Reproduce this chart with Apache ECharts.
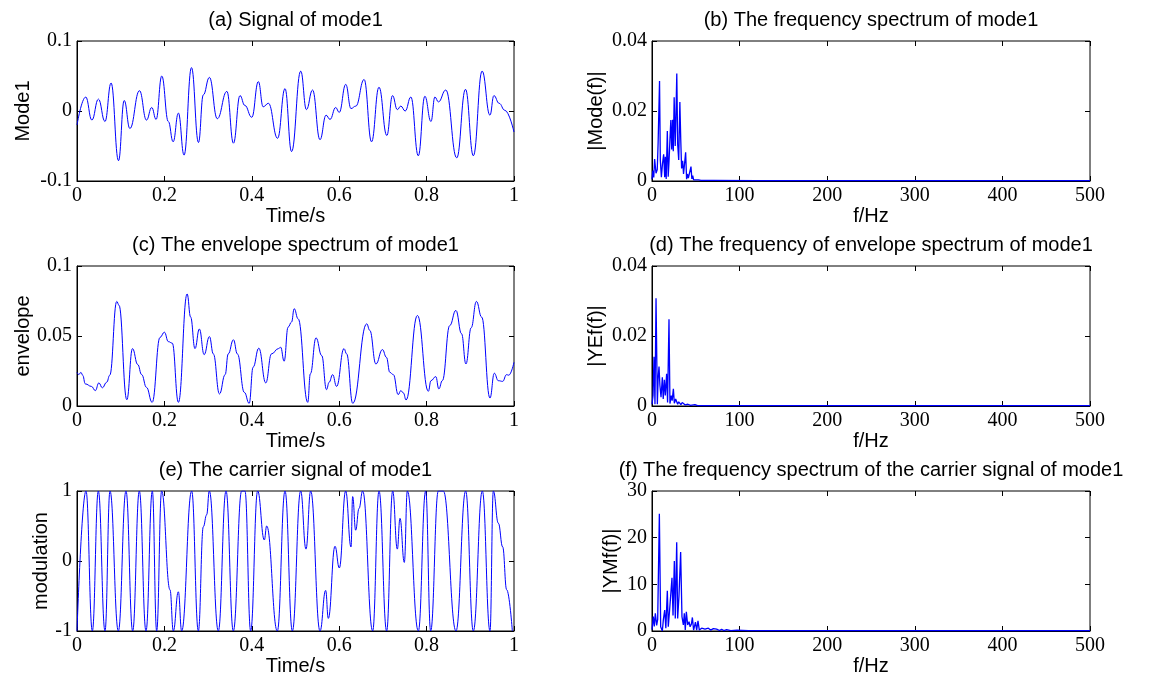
<!DOCTYPE html>
<html>
<head>
<meta charset="utf-8">
<title>Mode 1 analysis</title>
<script src="https://cdn.jsdelivr.net/npm/echarts@6/dist/echarts.min.js"></script>
<style>
  html, body { margin: 0; padding: 0; background: #fff; }
  #chart { width: 1154px; height: 678px; }
</style>
</head>
<body>
<div id="chart"></div>
<script>
// ---- (a) mode 1 in the time domain: [t (s), amplitude] at turning points ----
const mode1Signal = [
  [0.000,-0.020],[0.020,0.020],[0.034,-0.013],[0.049,0.017],[0.064,-0.015],[0.078,0.040],
  [0.095,-0.071],[0.108,0.015],[0.121,-0.025],[0.143,0.029],[0.159,-0.013],[0.171,0.005],
  [0.181,-0.012],[0.194,0.050],[0.209,-0.015],[0.220,-0.044],[0.232,-0.003],[0.245,-0.063],
  [0.262,0.062],[0.278,-0.045],[0.289,0.023],[0.303,0.048],[0.321,-0.011],[0.343,0.028],
  [0.358,-0.046],[0.373,0.022],[0.384,0.008],[0.400,-0.009],[0.415,0.042],[0.426,0.006],
  [0.438,0.011],[0.459,-0.039],[0.476,0.032],[0.491,-0.058],[0.512,0.057],[0.525,0.002],
  [0.539,0.030],[0.556,-0.041],[0.570,-0.006],[0.579,-0.012],[0.592,0.005],[0.600,-0.002],
  [0.615,0.038],[0.627,0.0035],[0.638,0.007],[0.657,0.045],[0.674,-0.044],[0.691,0.034],
  [0.709,-0.035],[0.722,0.022],[0.733,0.002],[0.741,0.007],[0.751,0.000],[0.764,0.020],
  [0.781,-0.064],[0.796,0.021],[0.810,-0.015],[0.819,0.020],[0.827,0.013],[0.844,0.030],
  [0.869,-0.067],[0.889,0.031],[0.907,-0.064],[0.927,0.057],[0.945,-0.006],[0.954,0.022],
  [0.966,0.011],[0.979,0.001],[1.000,-0.030]
];

// ---- (b) amplitude spectrum of mode 1: [f (Hz), |Mode(f)|] ----
const mode1Spectrum = [
  [0,0.0005],[1,0.0030],[2,0.0010],[3,0.0063],[4.6,0.0022],[6,0.0033],[7,0.0110],[8.6,0.0286],
  [9.5,0.0060],[10.7,0.0011],[12,0.0050],[13.3,0.0076],[14.5,0.0011],[15.2,0.0069],[16.2,0.0006],
  [17.5,0.0143],[18.5,0.0012],[19.5,0.0060],[20.5,0.0120],[21.5,0.0174],[22.5,0.0090],[23.5,0.0175],
  [24.3,0.0085],[25.3,0.0239],[26.5,0.0100],[27.3,0.0180],[28.3,0.0307],[29.3,0.0105],[30.5,0.0060],
  [31.8,0.0226],[32.8,0.0120],[33.8,0.0036],[35,0.0058],[36,0.0020],[37,0.0045],[38.4,0.0082],
  [39.5,0.0005],[40.5,0.0020],[41.5,0.0008],[43,0.0012],[44.5,0.0041],[45.5,0.0006],[46.5,0.0015],
  [47.5,0.0003],[49,0.0008],[50,0.0003],[51.5,0.0007],[53,0.0003],[56,0.0002],[70,0.0002],
  [120,0.0001],[500,0.0001]
];

// ---- (c) envelope of mode 1: [t (s), envelope] ----
const mode1Envelope = [
  [0.000,0.024],[0.004,0.0225],[0.009,0.024],[0.013,0.022],[0.019,0.0158],[0.033,0.014],
  [0.042,0.011],[0.050,0.0165],[0.058,0.013],[0.068,0.017],[0.075,0.022],[0.091,0.0747],
  [0.096,0.072],[0.114,0.0045],[0.127,0.041],[0.139,0.0296],[0.148,0.0224],[0.159,0.0133],
  [0.172,0.0026],[0.190,0.049],[0.200,0.0527],[0.209,0.046],[0.218,0.0449],[0.232,0.0026],
  [0.252,0.080],[0.260,0.0635],[0.270,0.041],[0.280,0.055],[0.291,0.0367],[0.303,0.0496],
  [0.312,0.0372],[0.326,0.0086],[0.339,0.0224],[0.346,0.0372],[0.358,0.0473],[0.367,0.0372],
  [0.383,0.0097],[0.394,0.0019],[0.403,0.0277],[0.416,0.0413],[0.432,0.0165],[0.445,0.0372],
  [0.461,0.041],[0.466,0.042],[0.474,0.032],[0.483,0.0563],[0.491,0.060],[0.497,0.0695],
  [0.506,0.0623],[0.528,0.0026],[0.534,0.023],[0.547,0.0487],[0.560,0.036],[0.571,0.0117],
  [0.577,0.017],[0.585,0.0224],[0.594,0.014],[0.611,0.041],[0.617,0.0372],[0.631,0.0019],
  [0.663,0.0587],[0.670,0.054],[0.684,0.030],[0.699,0.0403],[0.708,0.0348],[0.716,0.024],
  [0.724,0.0224],[0.735,0.0081],[0.741,0.011],[0.747,0.0093],[0.753,0.0043],[0.779,0.0647],
  [0.804,0.0105],[0.810,0.0181],[0.821,0.021],[0.828,0.0122],[0.836,0.0181],[0.853,0.0575],
  [0.867,0.0683],[0.880,0.0516],[0.890,0.030],[0.902,0.0559],[0.914,0.0747],[0.926,0.0635],
  [0.945,0.0057],[0.955,0.0234],[0.964,0.0181],[0.974,0.0176],[0.983,0.0224],[0.988,0.022],
  [1.000,0.0312]
];

// ---- (d) spectrum of the envelope: [f (Hz), |YEf(f)|] ----
const envelopeSpectrum = [
  [0,0.0005],[1.2,0.0030],[2.3,0.0141],[3.4,0.0005],[4.6,0.0308],[6.1,0.0005],[7,0.0080],
  [8,0.0113],[9,0.0060],[10.3,0.0025],[11.8,0.0082],[12.8,0.0020],[14.1,0.0075],[15.2,0.0030],
  [16.7,0.0092],[17.8,0.0010],[19.4,0.0248],[20.5,0.0007],[22,0.0030],[23,0.0015],[24.4,0.0049],
  [25.5,0.0008],[27,0.0020],[28.2,0.0025],[29.3,0.0005],[30.5,0.0012],[31.9,0.0017],[33,0.0004],
  [34.5,0.0010],[35.8,0.0008],[38,0.0003],[41,0.0005],[44,0.0002],[49,0.0004],[52,0.0001],
  [500,0.0001]
];

// ---- (e) carrier (normalised) signal: [t (s), value] ----
const carrierSignal = [
  [0.000,-1],[0.0206,1],[0.0351,-1],[0.0488,1],[0.0641,-1],[0.0755,1],[0.0946,-1],[0.1121,1],
  [0.1274,-1],[0.1426,1],[0.1579,-1],[0.1724,1],[0.1823,-1],[0.1937,1],[0.2128,-0.41],
  [0.2204,-1],[0.2319,-0.44],[0.2395,-1],[0.2624,1],[0.2777,-1],[0.2891,0.49],[0.2967,0.66],
  [0.3028,1],[0.3234,-1],[0.3410,1],[0.3577,-1],[0.3768,1],[0.3844,1],[0.3974,-1],[0.4134,1],
  [0.4287,0.30],[0.4340,0.50],[0.4584,-1],[0.4760,1],[0.4928,-1],[0.5118,1],[0.5240,0.17],
  [0.5347,1],[0.5561,-1],[0.5690,-0.42],[0.5751,-0.82],[0.5904,0.21],[0.6003,-0.10],[0.6148,1],
  [0.6270,0.20],[0.6308,0.92],[0.6377,0.44],[0.6453,0.75],[0.6537,1],[0.6766,-1],[0.6911,1],
  [0.7086,-1],[0.7224,1],[0.7330,0.17],[0.7391,0.61],[0.7490,-0.02],[0.7559,1],[0.7811,-1],
  [0.7979,1],[0.8093,-1],[0.8268,1],[0.8383,1],[0.8673,-1],[0.8894,1],[0.9069,-1],[0.9275,1],
  [0.9451,-1],[0.9527,1],[0.9642,0.54],[0.9741,0.20],[0.9832,-0.41],[0.9962,-1]
];

// ---- (f) spectrum of the carrier: [f (Hz), |YMf(f)|] ----
const carrierSpectrum = [
  [0,0.3],[1.5,3.1],[2.6,1.0],[3.8,3.8],[5.3,1.2],[6.5,2.5],[8.4,25.1],[9.9,0.9],[11.8,0.0],
  [13,2.5],[14.5,4.5],[15.8,0.6],[17.5,8.6],[18.6,0.9],[19.8,3.8],[21.3,7.5],[22.8,11.4],
  [24,3.3],[25.5,15.0],[26.6,2.7],[28.2,19.0],[29.3,2.7],[30.8,7.5],[32.7,16.9],[34.2,3.1],
  [35.8,1.3],[36.9,3.8],[38,0.2],[39.2,4.1],[40.7,1.3],[42.3,2.0],[43.5,0.9],[45,1.5],
  [46.1,2.9],[47.5,0.2],[49.6,1.9],[51,0.2],[52.5,2.2],[54,0.2],[56.7,0.6],[58.5,0.2],
  [60.5,0.4],[62,0.1],[64.3,0.6],[67,0.2],[70,0.5],[72,0.1],[73.8,0.4],[77,0.1],[79.5,0.35],
  [82,0.1],[85.2,0.3],[90,0.1],[97,0.2],[110,0.1],[500,0.1]
];

// ---- axis tick values ----
const timeTicks = { min: 0, max: 1, interval: 0.2 };
const freqTicks = { min: 0, max: 500, interval: 100 };
const modeTicks = { min: -0.1, max: 0.1, interval: 0.1 };
const modeSpecTicks = { min: 0, max: 0.04, interval: 0.02 };
const envTicks = { min: 0, max: 0.1, interval: 0.05 };
const envSpecTicks = { min: 0, max: 0.04, interval: 0.02 };
const carrierTicks = { min: -1, max: 1, interval: 1 };
const carrierSpecTicks = { min: 0, max: 30, interval: 10 };

const SANS = 'Liberation Sans';
const SERIF = 'Liberation Serif';

// panel layout: grid boxes in pixels
const colLeft = [77, 652];
const colWidth = [437, 438];
const rowTop = [41, 266, 491];
const rowHeight = 140;

const panels = [
  { title: '(a) Signal of mode1', col: 0, row: 0, x: timeTicks, y: modeTicks, xName: 'Time/s', yName: 'Mode1', yGap: 44, data: mode1Signal, smooth: true },
  { title: '(b) The frequency spectrum of mode1', col: 1, row: 0, x: freqTicks, y: modeSpecTicks, xName: 'f/Hz', yName: '|Mode(f)|', yGap: 46, data: mode1Spectrum, smooth: false },
  { title: '(c) The envelope spectrum of mode1', col: 0, row: 1, x: timeTicks, y: envTicks, xName: 'Time/s', yName: 'envelope', yGap: 44, data: mode1Envelope, smooth: true },
  { title: '(d) The frequency of envelope spectrum of mode1', col: 1, row: 1, x: freqTicks, y: envSpecTicks, xName: 'f/Hz', yName: '|YEf(f)|', yGap: 46, data: envelopeSpectrum, smooth: false },
  { title: '(e) The carrier signal of mode1', col: 0, row: 2, x: timeTicks, y: carrierTicks, xName: 'Time/s', yName: 'modulation', yGap: 26, data: carrierSignal, smooth: true },
  { title: '(f) The frequency spectrum of the carrier signal of mode1', col: 1, row: 2, x: freqTicks, y: carrierSpecTicks, xName: 'f/Hz', yName: '|YMf(f)|', yGap: 31, data: carrierSpectrum, smooth: false }
];

const grids = [], xAxes = [], yAxes = [], series = [], titles = [];

const tickStyle = { show: true, inside: true, length: 5, lineStyle: { color: '#000', width: 1 } };
const labelStyle = { color: '#000', fontFamily: SERIF, fontSize: 20 };

panels.forEach((p, i) => {
  const left = colLeft[p.col], top = rowTop[p.row], width = colWidth[p.col];
  grids.push({ left, top, width, height: rowHeight, show: true, borderColor: '#000', borderWidth: 1, backgroundColor: '#fff' });
  titles.push({
    text: p.title, left: left + width / 2, top: top - 31, textAlign: 'center', padding: 0,
    textStyle: { fontFamily: SANS, fontSize: 20, fontWeight: 'normal', color: '#000' }
  });
  // bottom / left axes carry labels; top / right mirror the ticks
  xAxes.push({
    type: 'value', gridIndex: i, position: 'bottom', ...p.x,
    name: p.xName, nameLocation: 'middle', nameGap: 22,
    nameTextStyle: { fontFamily: SANS, fontSize: 20, color: '#000' },
    axisLine: { show: true, onZero: false, lineStyle: { color: '#000', width: 1 } },
    axisTick: tickStyle, splitLine: { show: false },
    axisLabel: { ...labelStyle, margin: 5, showMinLabel: true, showMaxLabel: true }
  });
  xAxes.push({
    type: 'value', gridIndex: i, position: 'top', ...p.x,
    axisLine: { show: false, onZero: false }, axisTick: tickStyle, axisLabel: { show: false }, splitLine: { show: false }
  });
  yAxes.push({
    type: 'value', gridIndex: i, position: 'left', ...p.y,
    name: p.yName, nameLocation: 'middle', nameGap: p.yGap,
    nameTextStyle: { fontFamily: SANS, fontSize: 20, color: '#000' },
    axisLine: { show: true, onZero: false, lineStyle: { color: '#000', width: 1 } },
    axisTick: tickStyle, splitLine: { show: false },
    axisLabel: { ...labelStyle, margin: 5, showMinLabel: true, showMaxLabel: true }
  });
  yAxes.push({
    type: 'value', gridIndex: i, position: 'right', ...p.y,
    axisLine: { show: false, onZero: false }, axisTick: tickStyle, axisLabel: { show: false }, splitLine: { show: false }
  });
  series.push({
    type: 'line', xAxisIndex: 2 * i, yAxisIndex: 2 * i, data: p.data,
    showSymbol: false, symbol: 'none', clip: true,
    smooth: p.smooth ? 0.45 : false, smoothMonotone: p.smooth ? 'x' : undefined,
    lineStyle: { color: '#0000ff', width: p.smooth ? 1 : 1.3 },
    z: 3
  });
});

const chart = echarts.init(document.getElementById('chart'), null, { renderer: 'canvas' });
chart.setOption({
  animation: false,
  backgroundColor: '#fff',
  title: titles,
  grid: grids,
  xAxis: xAxes,
  yAxis: yAxes,
  series
});
</script>
</body>
</html>
